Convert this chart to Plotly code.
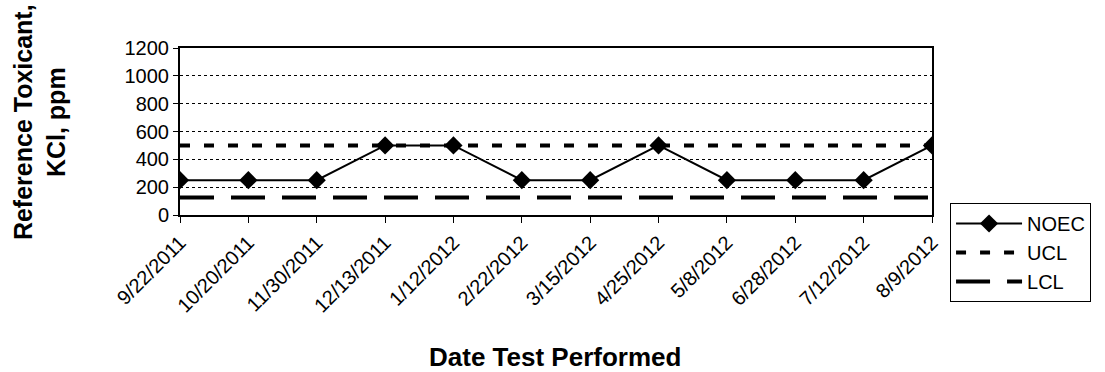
import plotly.graph_objects as go

dates = ["9/22/2011", "10/20/2011", "11/30/2011", "12/13/2011", "1/12/2012", "2/22/2012",
         "3/15/2012", "4/25/2012", "5/8/2012", "6/28/2012", "7/12/2012", "8/9/2012"]
noec = [250, 250, 250, 500, 500, 250, 250, 500, 250, 250, 250, 500]
ucl = [500] * len(dates)
lcl = [125] * len(dates)
y_ticks = [0, 200, 400, 600, 800, 1000, 1200]

FONT = "Liberation Sans, Arial, sans-serif"

fig = go.Figure()
fig.add_trace(go.Scatter(x=dates, y=ucl, name="UCL", mode="lines",
                         line=dict(color="black", width=4, dash="10px,14px")))
fig.add_trace(go.Scatter(x=dates, y=lcl, name="LCL", mode="lines",
                         line=dict(color="black", width=4, dash="34px,17px")))
fig.add_trace(go.Scatter(x=dates, y=noec, name="NOEC", mode="lines+markers",
                         line=dict(color="black", width=2),
                         marker=dict(symbol="diamond", size=14, color="black")))

fig.update_layout(
    width=1105, height=372,
    margin=dict(l=180, r=173, t=48, b=157),
    paper_bgcolor="white", plot_bgcolor="white",
    font=dict(family=FONT, size=19, color="black"),
    showlegend=True,
    legend=dict(x=1.024, y=0.072, xanchor="left", yanchor="top",
                bordercolor="black", borderwidth=1, bgcolor="white",
                font=dict(size=20), traceorder="normal",
                itemwidth=66),
    xaxis=dict(type="category", range=[0, len(dates) - 1],
               showline=True, linecolor="black", linewidth=2, mirror=True,
               ticks="outside", ticklen=6, tickcolor="black", tickwidth=1,
               tickangle=-45, showgrid=False, zeroline=False,
               tickfont=dict(size=20)),
    yaxis=dict(range=[0, 1200], tickvals=y_ticks,
               showline=True, linecolor="black", linewidth=2, mirror=True,
               ticks="outside", ticklen=5, tickcolor="black",
               showgrid=True, gridcolor="black", gridwidth=1, griddash="dot",
               zeroline=False, tickfont=dict(size=20)),
    annotations=[
        dict(text="<b>Date Test Performed</b>", xref="paper", yref="paper",
             x=0.4987, y=-0.85, xanchor="center", yanchor="middle",
             showarrow=False, font=dict(size=26)),
        dict(text="<b>Reference Toxicant,<br>KCl, ppm</b>", xref="paper", yref="paper",
             x=-0.186, y=0.557, xanchor="center", yanchor="middle", textangle=-90,
             showarrow=False, font=dict(size=25)),
    ],
)

# legend order: NOEC, UCL, LCL
fig.data[2].legendrank = 1
fig.data[0].legendrank = 2
fig.data[1].legendrank = 3

fig.write_html("out.html")
